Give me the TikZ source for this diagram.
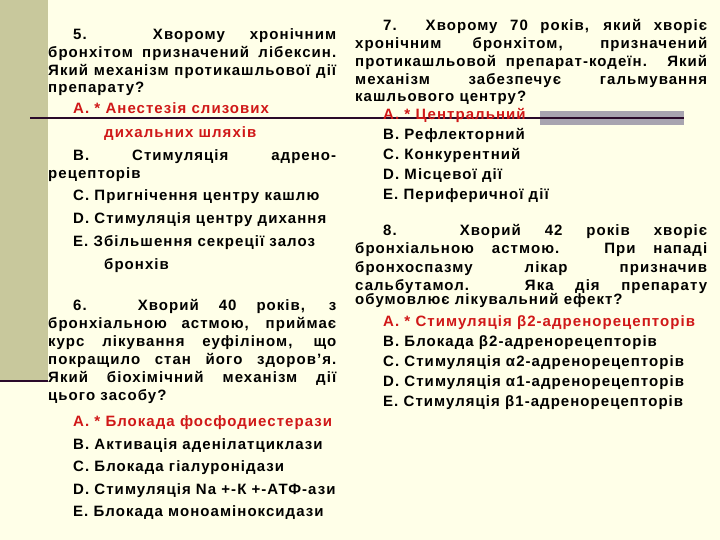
\documentclass[tikz,border=0pt]{standalone}
\usepackage{fontspec}
\setmainfont[LetterSpace=7]{Liberation Sans}
\definecolor{bg}{HTML}{FFFFE8}
\definecolor{bar}{HTML}{C8C89C}
\definecolor{dline}{HTML}{2A0A2A}
\definecolor{ans}{HTML}{D01818}
\definecolor{gbox}{HTML}{A8A4B0}
\newcommand{\J}[4]{\node[anchor=base west] at (#1,#2) {\makebox[#3pt][s]{#4}};}
\newcommand{\T}[3]{\node[anchor=base west] at (#1,#2) {#3};}
\newcommand{\R}[3]{\node[anchor=base west,text=ans] at (#1,#2) {#3};}
\begin{document}
\begin{tikzpicture}[x=1pt,y=-1pt,every node/.style={inner sep=0pt,font=\fontsize{15}{17}\selectfont\bfseries}]
\fill[bg] (0,0) rectangle (720,540);
\useasboundingbox (0,0) rectangle (720,540);
\fill[bar] (0,0) rectangle (48,380);
\draw[dline,line width=2pt] (0,381) -- (48,381);
\fill[gbox] (540,111) rectangle (684,125);
\draw[dline,line width=1.6pt] (30,118) -- (684,118);
% left column
\J{73}{40}{263}{5. Хворому хронічним}
\J{48}{58}{288}{бронхітом призначений лібексин.}
\J{48}{76}{288}{Який механізм протикашльової дії}
\T{48}{93}{препарату?}
\R{73}{114}{А. * Анестезія слизових}
\R{104}{138}{дихальних шляхів}
\J{73}{161}{263}{В. Стимуляція адрено-}
\T{48}{179}{рецепторів}
\T{73}{201}{С. Пригнічення центру кашлю}
\T{73}{223}{D. Стимуляція центру дихання}
\T{73}{246}{Е. Збільшення секреції залоз}
\T{104}{269}{бронхів}
\J{73}{310}{263}{6. Хворий 40 років, з}
\J{48}{328}{288}{бронхіальною астмою, приймає}
\J{48}{346}{288}{курс лікування еуфіліном, що}
\J{48}{364}{288}{покращило стан його здоров'я.}
\J{48}{382}{288}{Який біохімічний механізм дії}
\T{48}{400}{цього засобу?}
\R{73}{426}{А. * Блокада фосфодиестерази}
\T{73}{449}{В. Активація аденілатциклази}
\T{73}{471}{С. Блокада гіалуронідази}
\T{73}{494}{D. Стимуляція Na +-К +-АТФ-ази}
\T{73}{516}{Е. Блокада моноаміноксидази}
% right column
\J{383}{31}{324}{7. Хворому 70 років, який хворіє}
\J{355}{49}{352}{хронічним бронхітом, призначений}
\J{355}{67}{352}{протикашльовой препарат-кодеїн. Який}
\J{355}{85}{352}{механізм забезпечує гальмування}
\T{355}{102}{кашльового центру?}
\R{383}{120}{А. * Центральний}
\T{383}{140}{В. Рефлекторний}
\T{383}{160}{С. Конкурентний}
\T{383}{180}{D. Місцевої дії}
\T{383}{200}{Е. Периферичної дії}
\J{383}{236}{324}{8. Хворий 42 років хворіє}
\J{355}{254}{352}{бронхіальною астмою. При нападі}
\J{355}{272}{352}{бронхоспазму лікар призначив}
\J{355}{290}{352}{сальбутамол. Яка дія препарату}
\T{355}{304}{обумовлює лікувальний ефект?}
\R{383}{326}{А. * Стимуляція β2-адренорецепторів}
\T{383}{346}{В. Блокада β2-адренорецепторів}
\T{383}{366}{С. Стимуляція α2-адренорецепторів}
\T{383}{386}{D. Стимуляція α1-адренорецепторів}
\T{383}{406}{Е. Стимуляція β1-адренорецепторів}
\end{tikzpicture}
\end{document}
